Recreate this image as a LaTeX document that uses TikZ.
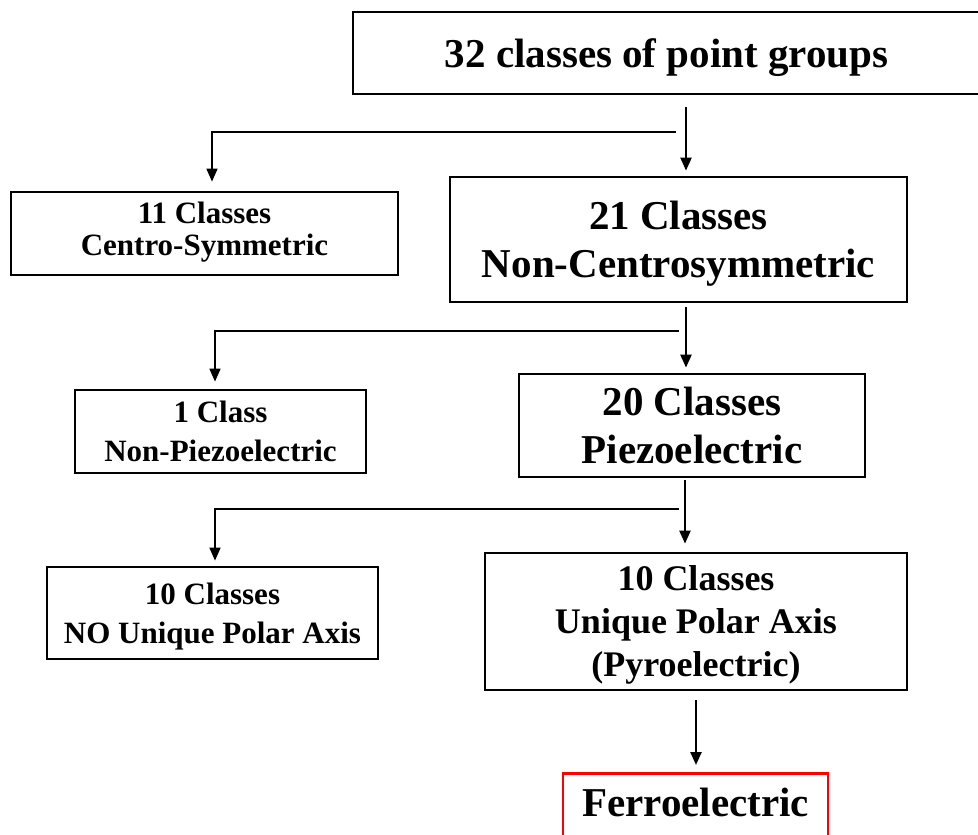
\documentclass[tikz,border=0pt]{standalone}
\usepackage{fontspec}
\setmainfont{Liberation Serif}
\usetikzlibrary{arrows.meta}

\begin{document}
\begin{tikzpicture}[x=1pt,y=-1pt,
    box/.style={draw,line width=2.8pt,align=center,inner sep=0pt,text depth=0pt},
    bigtxt/.style={font=\bfseries\fontsize{41}{48}\selectfont},
    midtxt/.style={font=\bfseries\fontsize{36}{43}\selectfont},
    smalltxt/.style={font=\bfseries\fontsize{31}{39}\selectfont},
    down/.style={line width=2.4pt,-{Triangle[width=11pt,length=13pt]},shorten >=5pt},
    branch/.style={line width=1.7pt,-{Triangle[width=11pt,length=13pt]},shorten >=8pt}]
    \useasboundingbox (0,0) rectangle (978,835);
    \clip (0,0) rectangle (978,835);
    % boxes
    \node[box,bigtxt,minimum width=627pt,minimum height=82pt] (pg32) at (666.5,53) {32 classes of point groups};
    \node[box,bigtxt,minimum width=457pt,minimum height=125pt] (nc21) at (678.5,239.5) {21 Classes\\Non-Centrosymmetric};
    \node[box,smalltxt,text depth=10pt,minimum width=387pt,minimum height=83pt] (cs11) at (204.5,233.5) {11 Classes\\[-7pt]Centro-Symmetric};
    \node[box,bigtxt,minimum width=346pt,minimum height=103pt] (pz20) at (692,425.5) {20 Classes\\Piezoelectric};
    \node[box,smalltxt,minimum width=291pt,minimum height=83pt] (npz1) at (220.5,431.5) {1 Class\\Non-Piezoelectric};
    \node[box,smalltxt,minimum width=331pt,minimum height=92pt] (nopol) at (212.5,613) {10 Classes\\NO Unique Polar Axis};
    \node[box,midtxt,minimum width=422pt,minimum height=137pt] (pyro) at (696,621.5) {10 Classes\\Unique Polar Axis\\(Pyroelectric)};
    \node[box,bigtxt,draw=red,anchor=north,minimum width=265pt,inner ysep=15pt,text depth=40pt] (ferro) at (695.5,772) {Ferroelectric};
    % main arrows
    \coordinate (s1) at (686,107);
    \coordinate (s2) at (686,307);
    \coordinate (s3) at (685,480);
    \coordinate (s4) at (696,700);
    \draw[down] (s1) -- (s1 |- nc21.north);
    \draw[down] (s2) -- (s2 |- pz20.north);
    \draw[down,shorten >=8pt] (s3) -- (s3 |- pyro.north);
    \draw[down,shorten >=7pt] (s4) -- (s4 |- ferro.north);
    % side branches
    \coordinate (b1) at (676,132);
    \coordinate (b2) at (679,331);
    \coordinate (b3) at (679,509);
    \draw[branch,shorten >=9pt] (b1) -| ([xshift=7.5pt]cs11.north);
    \draw[branch,shorten >=7pt] (b2) -| ([xshift=-5.5pt]npz1.north);
    \draw[branch,shorten >=5pt] (b3) -| ([xshift=2.5pt]nopol.north);
\end{tikzpicture}
\end{document}
